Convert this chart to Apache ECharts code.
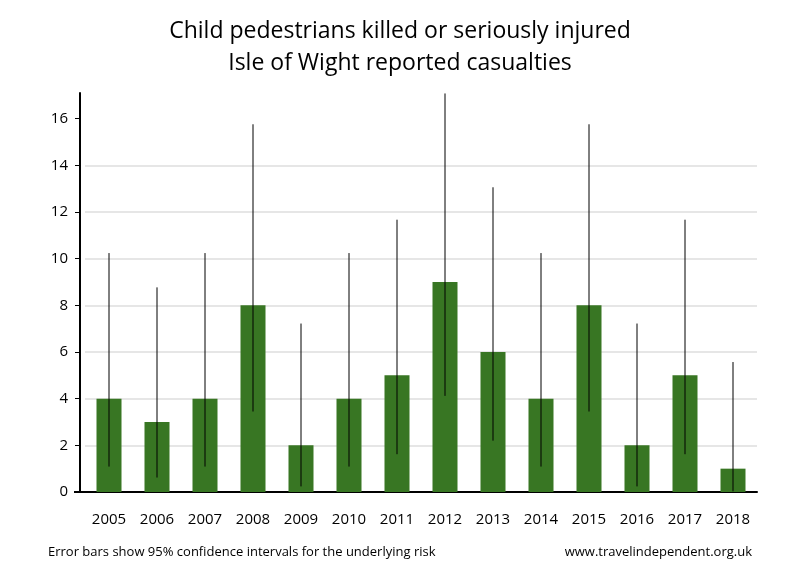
<!DOCTYPE html>
<html><head><meta charset="utf-8">
<script src="https://cdn.jsdelivr.net/npm/echarts@6/dist/echarts.min.js"></script>
<style>html,body{margin:0;padding:0;background:#fff}#c{width:800px;height:580px}</style>
</head><body><div id="c"></div>
<script>
const years = ['2005','2006','2007','2008','2009','2010','2011','2012','2013','2014','2015','2016','2017','2018'];
const casualties = [4,3,4,8,2,4,5,9,6,4,8,2,5,1];
const ciLow  = [1.09,0.62,1.09,3.45,0.24,1.09,1.62,4.12,2.20,1.09,3.45,0.24,1.62,0.03];
const ciHigh = [10.24,8.77,10.24,15.76,7.22,10.24,11.67,17.08,13.06,10.24,15.76,7.22,11.67,5.57];
const yTicks = [0,2,4,6,8,10,12,14,16];

const font = '"Open Sans", "Liberation Sans", sans-serif';
const chart = echarts.init(document.getElementById('c'));
chart.setOption({
  animation:false,
  title:{text:'Child pedestrians killed or seriously injured\nIsle of Wight reported casualties',left:'center',top:10,
    textStyle:{fontFamily:font,fontSize:23,fontWeight:'normal',color:'#000',lineHeight:32}},
  graphic:[
    {type:'text',left:48,top:546,style:{text:'Error bars show 95% confidence intervals for the underlying risk',font:'13px '+font,fill:'#000'}},
    {type:'text',right:48,top:546,style:{text:'www.travelindependent.org.uk',font:'13px '+font,fill:'#000'}},
    {type:'line',shape:{x1:74,y1:492,x2:86,y2:492},style:{stroke:'#000',lineWidth:2}}
  ],
  grid:{left:85,right:43,top:93,bottom:88},
  xAxis:{type:'category',data:years,
    axisLine:{lineStyle:{color:'#000',width:2}},axisTick:{show:false},
    axisLabel:{fontFamily:font,fontSize:15,color:'#000',margin:20}},
  yAxis:{type:'value',min:0,max:17.1,interval:2,offset:5,
    axisLine:{show:true,lineStyle:{color:'#000',width:2}},
    axisTick:{show:true,length:5,lineStyle:{color:'#000'},customValues:yTicks},
    axisLabel:{fontFamily:font,fontSize:15,color:'#000',margin:12,customValues:yTicks},
    splitLine:{show:true,showMaxLine:false,lineStyle:{color:'#e6e6e6',width:2}}},
  series:[
    {type:'bar',data:casualties,barWidth:25,itemStyle:{color:'#387623'}},
    {type:'custom',data:years.map((y,i)=>[i,ciLow[i],ciHigh[i]]),z:5,
      renderItem:function(params,api){
        const p1=api.coord([api.value(0),api.value(1)]);
        const p2=api.coord([api.value(0),api.value(2)]);
        return {type:'line',shape:{x1:p1[0],y1:p1[1],x2:p2[0],y2:p2[1]},style:{stroke:'#000',lineWidth:1}};
      }}
  ]
});
</script></body></html>
